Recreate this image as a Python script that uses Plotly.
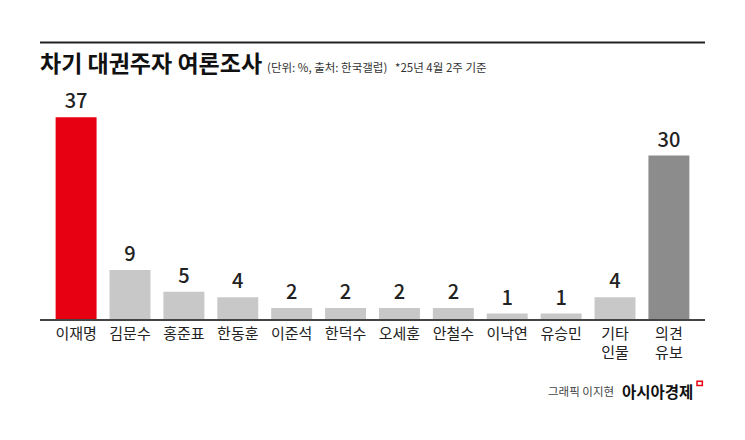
import plotly.graph_objects as go

# 데이터
candidates = ["이재명", "김문수", "홍준표", "한동훈", "이준석", "한덕수",
              "오세훈", "안철수", "이낙연", "유승민", "기타<br>인물", "의견<br>유보"]
support = [37, 9, 5, 4, 2, 2, 2, 2, 1, 1, 4, 30]
bar_colors = ["#e60012"] + ["#c8c8c8"] * 10 + ["#8c8c8c"]

font_kr = "Noto Sans CJK KR"

fig = go.Figure(go.Bar(
    x=candidates, y=support,
    marker_color=bar_colors, marker_line_width=0,
    text=support, textposition="outside", cliponaxis=False,
    textfont=dict(family=font_kr, size=20, color="#222", weight=500),
))

# 페이지 여백(8px) 보정
fig.update_layout(
    width=737, height=432,
    margin=dict(l=32, r=40, t=93, b=121),
    paper_bgcolor="white", plot_bgcolor="white",
    bargap=0.24, showlegend=False,
    font=dict(family=font_kr, color="#222"),
    xaxis=dict(range=[-0.67, 11.67], showgrid=False, showline=True,
               linecolor="#444", linewidth=1.5, ticks="",
               tickfont=dict(size=15, color="#222"), tickangle=0),
    yaxis=dict(range=[0, 40], visible=False),
)

# 상단 라인
fig.add_shape(type="line", xref="paper", yref="paper", x0=0, x1=1,
              y0=1.268, y1=1.268, line=dict(color="#222", width=2))

# 제목
fig.add_annotation(xref="paper", yref="paper", x=-0.003, y=1.18, xanchor="left",
                   yanchor="middle", showarrow=False,
                   text="<b>차기 대권주자 여론조사</b>",
                   font=dict(size=23, color="#111"))
fig.add_annotation(xref="paper", yref="paper", x=0.338, y=1.155, xanchor="left",
                   yanchor="middle", showarrow=False,
                   text="(단위: %, 출처: 한국갤럽)   *25년 4월 2주 기준",
                   font=dict(size=11.5, color="#333"))

# 출처 표기
fig.add_annotation(xref="paper", yref="paper", x=0.866, y=-0.33, xanchor="right",
                   yanchor="middle", showarrow=False, text="그래픽 이지현",
                   font=dict(size=11.5, color="#444"))
fig.add_annotation(xref="paper", yref="paper", x=0.985, y=-0.33, xanchor="right",
                   yanchor="middle", showarrow=False, text="<b>아시아경제</b>",
                   font=dict(size=15.5, color="#111"))
fig.add_shape(type="rect", xref="paper", yref="paper", x0=0.988, x1=0.996,
              y0=-0.305, y1=-0.285, line=dict(color="#e60012", width=1.5))

fig.write_html("out.html")
